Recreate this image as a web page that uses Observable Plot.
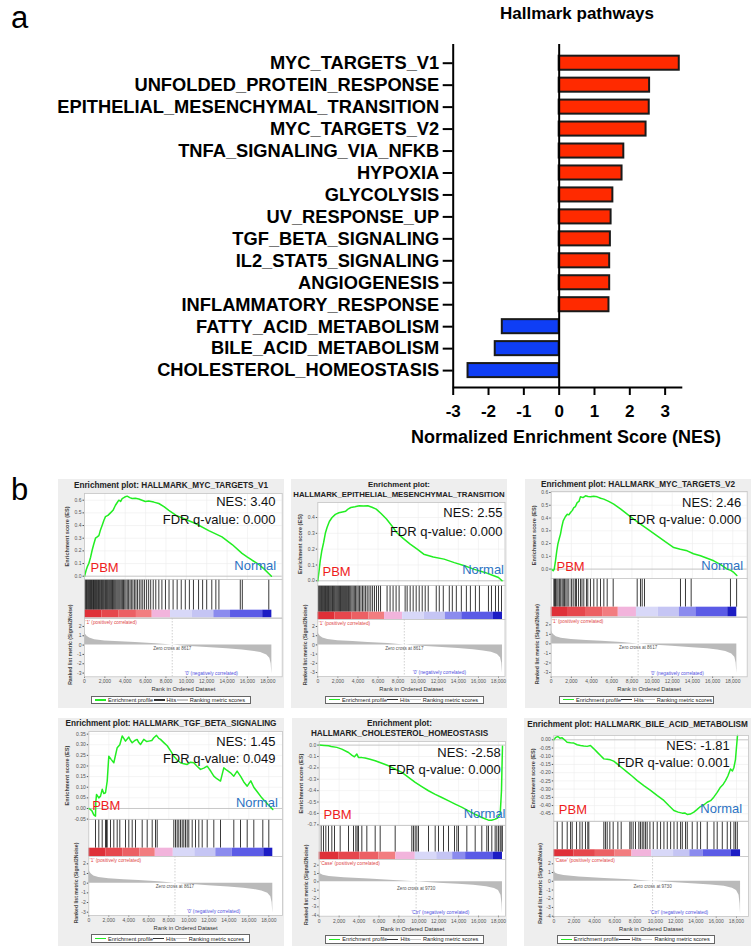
<!DOCTYPE html>
<html>
<head>
<meta charset="utf-8">
<script src="https://cdn.jsdelivr.net/npm/d3@7"></script>
<script src="https://cdn.jsdelivr.net/npm/@observablehq/plot@0.6"></script>
<style>
  body { margin: 0; background: #fff; }
  #fig { position: relative; width: 751px; height: 946px; overflow: hidden; font-family: "Liberation Sans", Arial, sans-serif; color: #000; }
  .abs { position: absolute; white-space: nowrap; }
  .panel { position: absolute; background: #eeeeee; }
  .ptitle { position: absolute; left: 0; width: 100%; text-align: center; font-weight: bold; font-size: 8px; line-height: 10px; white-space: nowrap; color: #222; }
  .legend { position: absolute; background: #fff; border: 0.8px solid #666; box-sizing: border-box; display: flex; align-items: center; justify-content: space-between; padding: 0 5px 0 3px; font-size: 5.6px; color: #222; white-space: nowrap; }
  .legend i { display: inline-block; width: 11px; height: 1.3px; vertical-align: middle; margin-right: 2px; position: relative; top: -0.5px; }
</style>
</head>
<body>
<div id="fig"></div>
<script>
// ---------- Panel a: hallmark pathways, normalized enrichment scores ----------
const pathways = [
  "MYC_TARGETS_V1", "UNFOLDED_PROTEIN_RESPONSE", "EPITHELIAL_MESENCHYMAL_TRANSITION",
  "MYC_TARGETS_V2", "TNFA_SIGNALING_VIA_NFKB", "HYPOXIA", "GLYCOLYSIS", "UV_RESPONSE_UP",
  "TGF_BETA_SIGNALING", "IL2_STAT5_SIGNALING", "ANGIOGENESIS", "INFLAMMATORY_RESPONSE",
  "FATTY_ACID_METABOLISM", "BILE_ACID_METABOLISM", "CHOLESTEROL_HOMEOSTASIS"
];
const nes = [3.40, 2.56, 2.55, 2.46, 1.83, 1.78, 1.52, 1.47, 1.45, 1.43, 1.43, 1.41, -1.61, -1.81, -2.58];
const nesTicks = [-3, -2, -1, 0, 1, 2, 3];

// ---------- Panel b: GSEA enrichment plots ----------
const gseaSets = ["MYC_TARGETS_V1", "EPITHELIAL_MESENCHYMAL_TRANSITION", "MYC_TARGETS_V2",
                  "TGF_BETA_SIGNALING", "CHOLESTEROL_HOMEOSTASIS", "BILE_ACID_METABOLISM"];
const fdrQ = [0.000, 0.000, 0.000, 0.049, 0.000, 0.001];

// running enrichment score: [rank, ES]
const esMycV1 = [[0,0],[160,0.047],[300,0.08],[420,0.1],[600,0.15],[750,0.205],[900,0.25],[1080,0.3],[1250,0.31],[1410,0.32],[1550,0.36],[1730,0.4],[1900,0.44],[2060,0.47],[2300,0.48],[2550,0.5],[2800,0.52],[3040,0.56],[3200,0.58],[3370,0.6],[3550,0.59],[3700,0.613],[3950,0.625],[4190,0.632],[4450,0.62],[4680,0.613],[5000,0.615],[5330,0.61],[5650,0.6],[5980,0.59],[6300,0.594],[6800,0.585],[7300,0.574],[7800,0.55],[8280,0.52],[9000,0.48],[9900,0.45],[10900,0.416],[12200,0.36],[13500,0.31],[14500,0.25],[15470,0.18],[16000,0.15],[16460,0.126],[17000,0.1],[17600,0.06],[18360,0.0]];
const esEmt = [[0,0],[120,0.06],[240,0.126],[400,0.19],[580,0.242],[750,0.3],[920,0.337],[1150,0.375],[1420,0.4],[1750,0.42],[2100,0.43],[2450,0.435],[2780,0.44],[3050,0.455],[3290,0.463],[3700,0.468],[4130,0.474],[4550,0.472],[4980,0.474],[5400,0.465],[5820,0.453],[6300,0.425],[6840,0.39],[7350,0.35],[7850,0.305],[8500,0.268],[9200,0.232],[9900,0.2],[10550,0.168],[11500,0.15],[12580,0.137],[13600,0.115],[14610,0.095],[15600,0.072],[16640,0.053],[17400,0.035],[18000,0.021],[18350,0.0]];
const esMycV2 = [[0,0],[200,-0.013],[300,0.0],[425,0.065],[550,0.14],[660,0.196],[800,0.24],[920,0.274],[1050,0.33],[1190,0.378],[1400,0.41],[1590,0.43],[1750,0.425],[1915,0.443],[2100,0.46],[2240,0.482],[2400,0.49],[2575,0.521],[2750,0.53],[2904,0.566],[3150,0.56],[3400,0.574],[3650,0.568],[3900,0.566],[4200,0.57],[4560,0.566],[4900,0.555],[5210,0.548],[5700,0.53],[6200,0.509],[6900,0.47],[7530,0.431],[8200,0.39],[8850,0.352],[9700,0.305],[10500,0.261],[11300,0.215],[12150,0.169],[12800,0.155],[13480,0.143],[14100,0.12],[14800,0.104],[15450,0.085],[16110,0.065],[16800,0.035],[17440,0.0],[17800,-0.01],[18100,-0.026],[18400,-0.05]];
const esTgf = [[0,0.0],[300,-0.01],[500,-0.03],[670,-0.036],[700,0.03],[770,0.066],[1000,0.05],[1170,0.058],[1340,0.09],[1500,0.07],[1670,0.074],[1840,0.129],[2000,0.246],[2250,0.23],[2500,0.215],[2840,0.286],[3100,0.3],[3340,0.341],[3500,0.33],[3670,0.317],[4000,0.336],[4170,0.32],[4340,0.309],[4600,0.32],[4830,0.325],[5000,0.31],[5170,0.301],[5500,0.325],[5800,0.315],[6000,0.317],[6300,0.32],[6500,0.333],[6770,0.344],[7000,0.33],[7170,0.325],[7500,0.31],[7840,0.295],[8200,0.27],[8500,0.246],[8840,0.228],[9170,0.215],[9500,0.21],[9840,0.207],[10170,0.218],[10500,0.215],[10800,0.2],[11170,0.184],[11500,0.19],[11840,0.199],[12200,0.175],[12500,0.152],[12800,0.14],[13170,0.129],[13500,0.191],[13800,0.18],[14170,0.168],[14500,0.152],[14830,0.176],[15200,0.15],[15500,0.125],[15840,0.105],[16200,0.13],[16500,0.1],[16900,0.075],[17300,0.05],[17800,0.025],[18400,-0.005]];
const esChol = [[0,0],[500,-0.003],[940,-0.005],[1200,-0.012],[1770,-0.02],[2270,-0.035],[2940,-0.065],[3300,-0.09],[3540,-0.103],[3780,-0.079],[3940,-0.108],[4300,-0.11],[4610,-0.114],[5100,-0.125],[5620,-0.138],[6300,-0.16],[6960,-0.182],[7600,-0.21],[8300,-0.24],[9000,-0.285],[9640,-0.328],[10300,-0.365],[10970,-0.401],[11600,-0.43],[12310,-0.46],[13000,-0.49],[13650,-0.518],[14300,-0.545],[14990,-0.577],[15700,-0.61],[16330,-0.636],[17000,-0.659],[17300,-0.66],[17670,-0.65],[17900,-0.64],[18170,-0.606],[18300,-0.4],[18350,-0.2],[18400,-0.01]];
const esBile = [[0,0],[200,0.015],[400,0.02],[600,0.01],[820,0.012],[1050,0.0],[1310,-0.015],[1650,-0.018],[1970,-0.02],[2300,-0.03],[2630,-0.035],[2950,-0.038],[3280,-0.04],[3610,-0.035],[3950,-0.055],[4270,-0.075],[4600,-0.095],[4930,-0.116],[5250,-0.118],[5580,-0.122],[5900,-0.13],[6240,-0.146],[6700,-0.17],[7230,-0.197],[7700,-0.22],[8220,-0.248],[8900,-0.28],[9530,-0.308],[10200,-0.34],[10840,-0.369],[11330,-0.4],[11830,-0.43],[12250,-0.44],[12650,-0.446],[12900,-0.445],[13140,-0.454],[13450,-0.452],[13800,-0.44],[14100,-0.425],[14450,-0.406],[14800,-0.395],[15110,-0.38],[15450,-0.37],[15760,-0.349],[16100,-0.32],[16420,-0.288],[16700,-0.27],[16920,-0.248],[17150,-0.22],[17410,-0.177],[17600,-0.19],[17740,-0.17],[17900,-0.12],[18000,-0.045],[18100,0.026]];

// positions of gene-set members in the ranked list
const hitsMycV1 = [40,120,200,260,330,410,470,540,600,680,750,820,880,950,1010,1090,1160,1230,1300,1380,1450,1520,1600,1680,1750,1830,1900,1990,2070,2150,2240,2320,2400,2480,2570,2660,2750,2830,2920,3010,3100,3200,3300,3400,3500,3610,3720,3830,3950,4070,4200,4330,4470,4600,4750,4900,5050,5200,5380,5550,5720,5900,6100,6300,6500,6750,7000,7300,7600,7950,8300,8700,9100,9500,9900,10300,10700,11200,11600,12000,12500,12900,13200,15300,15500,18100];
const hitsEmt = [60,150,230,300,380,450,530,600,680,760,830,900,980,1060,1140,1220,1300,1390,1470,1550,1640,1720,1810,1900,1990,2080,2170,2260,2350,2450,2550,2650,2750,2850,2950,3060,3170,3280,3400,3520,3640,3760,3890,4020,4150,4300,4450,4600,4760,4920,5100,5280,5460,5650,5850,6050,6250,6900,7200,7500,7800,8100,8700,8900,9200,9500,9800,10100,10400,10700,11000,11800,12100,12500,13100,13400,13800,14300,14800,15200,15700,16100,17000,17300,17700,18000,18300];
const hitsMycV2 = [262,330,426,500,655,780,853,950,1084,1200,1315,1450,1579,1744,1976,2050,2240,2400,2504,2700,2900,3050,3230,3494,3626,3890,4220,4550,4886,5216,5550,6145,8523,8850,9019,9247,12815,13310,13875,17770,18380];
const hitsTgf = [670,1000,1340,1670,1770,1840,2170,2500,2840,3100,3670,4000,4340,4670,5340,5840,6340,6670,6840,8500,8670,8840,9000,9170,9340,9500,9670,9840,10000,10340,10670,11000,11340,11840,12500,13170,14500,15170,15840,16500,17400,18000];
const hitsChol = [200,432,666,934,1268,1536,2105,2942,3444,3678,3812,3946,4280,4782,5619,6121,7627,9300,9464,9636,9803,9970,10974,11643,11978,12480,12982,13584,13818,13985,14822,15660,16325,16827,16995,17330,17664,17831,17998,18165,18265,18390];
const hitsBile = [335,828,1320,1650,1810,2240,2570,2800,3120,3350,3450,4930,5090,5260,5520,5850,6310,6640,7490,7620,7820,8050,8380,8540,8710,8870,9040,9200,9470,9800,10190,10520,10850,11180,11510,11840,12160,12490,12660,12980,13150,13640,14130,14460,15120,15780,16100,16600,17090,17420,17750,17910,18080];

// ranked list metric (Signal2Noise): [rank, metric]
const metricPbm = [[0,2.0],[30,1.4],[100,1.15],[250,0.95],[500,0.75],[1000,0.58],[2000,0.45],[3500,0.36],[5000,0.27],[7000,0.14],[8617,0],[10000,-0.12],[12000,-0.26],[14000,-0.4],[15500,-0.52],[16500,-0.65],[17300,-0.8],[17900,-1.05],[18200,-1.4],[18330,-2.0],[18380,-2.8],[18400,-3.1]];
const metricCase = [[0,1.6],[30,1.2],[150,0.95],[400,0.8],[1000,0.65],[2500,0.5],[5000,0.33],[7500,0.16],[9730,0],[12000,-0.17],[14000,-0.3],[15500,-0.42],[16800,-0.58],[17600,-0.8],[18000,-1.05],[18250,-1.6],[18350,-2.6],[18400,-3.8]];

// heat-map strip under the hits: [start rank, end rank, level]
const heatPbm = [[0,1700,5],[1700,3400,4],[3400,5100,3],[5100,6650,2],[6650,8450,1],[8450,10600,-1],[10600,12700,-2],[12700,14340,-3],[14340,17500,-4],[17500,18400,-5]];
const heatCase = [[0,2000,5],[2000,4100,4],[4100,6000,3],[6000,7700,2],[7700,9650,1],[9650,11800,-1],[11800,13400,-2],[13400,14700,-3],[14700,17500,-4],[17500,18400,-5]];
const heatLevels = [5, 4, 3, 2, 1, -1, -2, -3, -4, -5];

// tick labels
const rankTicks = [0, 2000, 4000, 6000, 8000, 10000, 12000, 14000, 16000, 18000];
const esTicks06 = [0, 0.1, 0.2, 0.3, 0.4, 0.5, 0.6];
const esTicks04 = [0, 0.1, 0.2, 0.3, 0.4];
const esTicksTgf = [-0.05, 0, 0.05, 0.1, 0.15, 0.2, 0.25, 0.3, 0.35];
const esTicksChol = [0, -0.1, -0.2, -0.3, -0.4, -0.5, -0.6, -0.7];
const esTicksBile = [0, -0.05, -0.1, -0.15, -0.2, -0.25, -0.3, -0.35, -0.4, -0.45];
const metricTicksPbm = [2, 1, 0, -1, -2, -3];
const metricTicksCase = [2, 1, 0, -1, -2, -3, -4];

// ---------- styling ----------
const heatColors = ["#df3038", "#e6474d", "#ec6064", "#f27d80", "#f2b4dc", "#d8d8f8", "#c5c5f4", "#8b8bee", "#5b5be6", "#1d1dc4"];
const ARIAL = "Liberation Sans, Arial, sans-serif";
const baseStyle = {fontFamily: ARIAL, background: "transparent", overflow: "visible"};
const fig = document.getElementById("fig");

function addText(txt, css) {
  const d = document.createElement("div");
  d.className = "abs";
  d.textContent = txt;
  Object.assign(d.style, css);
  fig.appendChild(d);
  return d;
}

// ---------- panel a ----------
addText("a", {left: "11px", top: "2px", fontSize: "31px", lineHeight: "31px", fontFamily: ARIAL});
addText("Hallmark pathways", {left: "577px", top: "14px", transform: "translate(-50%,-50%)", fontSize: "17px", fontWeight: "bold"});

const bars = pathways.map((name, i) => ({name, i, value: nes[i]}));
const barPlot = Plot.plot({
  width: 751, height: 455,
  marginLeft: 452.7, marginRight: 68.7, marginTop: 44, marginBottom: 68,
  style: baseStyle,
  x: {domain: [-3, 3.5]},
  y: {domain: [-0.852, 14.77], reverse: true},
  marks: [
    Plot.rect(bars, {
      x1: () => 0, x2: "value",
      y1: d => d.i - 0.32, y2: d => d.i + 0.32,
      fill: d => d.value > 0 ? "#ff2a00" : "#0f3ef5",
      stroke: "#1a1a1a", strokeWidth: 2
    }),
    Plot.ruleX([0], {strokeWidth: 2}),
    Plot.ruleX([-3], {strokeWidth: 2}),
    Plot.ruleY([14.77], {strokeWidth: 2}),
    Plot.axisY(bars.map(d => d.i), {tickFormat: i => pathways[i], tickSize: 10, tickPadding: 4, fontSize: 18.3, fontWeight: "bold", strokeWidth: 2, label: null}),
    Plot.axisX(nesTicks, {tickFormat: d => String(d), tickSize: 8, tickPadding: 9, fontSize: 17, fontWeight: "bold", strokeWidth: 2, label: null})
  ]
});
barPlot.style.position = "absolute";
barPlot.style.left = "0px";
barPlot.style.top = "0px";
fig.appendChild(barPlot);
addText("Normalized Enrichment Score (NES)", {left: "566px", top: "437px", transform: "translate(-50%,-50%)", fontSize: "18px", fontWeight: "bold"});

// ---------- panel b ----------
addText("b", {left: "11px", top: "474px", fontSize: "31px", lineHeight: "31px", fontFamily: ARIAL});

const fmt1 = d => d.toFixed(1), fmt2 = d => d.toFixed(2);
const sets = [
  {es: esMycV1, hits: hitsMycV1, metric: metricPbm, heat: heatPbm, esTicks: esTicks06, esFmt: fmt1, mTicks: metricTicksPbm, zero: 8617, pos: "'1' (positively correlated)", neg: "'0' (negatively correlated)", title: ["Enrichment plot: HALLMARK_MYC_TARGETS_V1"]},
  {es: esEmt, hits: hitsEmt, metric: metricPbm, heat: heatPbm, esTicks: esTicks04, esFmt: fmt1, mTicks: metricTicksPbm, zero: 8617, pos: "'1' (positively correlated)", neg: "'0' (negatively correlated)", title: ["Enrichment plot:", "HALLMARK_EPITHELIAL_MESENCHYMAL_TRANSITION"]},
  {es: esMycV2, hits: hitsMycV2, metric: metricPbm, heat: heatPbm, esTicks: esTicks06, esFmt: fmt1, mTicks: metricTicksPbm, zero: 8617, pos: "'1' (positively correlated)", neg: "'0' (negatively correlated)", title: ["Enrichment plot: HALLMARK_MYC_TARGETS_V2"]},
  {es: esTgf, hits: hitsTgf, metric: metricPbm, heat: heatPbm, esTicks: esTicksTgf, esFmt: fmt2, mTicks: metricTicksPbm, zero: 8617, pos: "'1' (positively correlated)", neg: "'0' (negatively correlated)", title: ["Enrichment plot: HALLMARK_TGF_BETA_SIGNALING"]},
  {es: esChol, hits: hitsChol, metric: metricCase, heat: heatCase, esTicks: esTicksChol, esFmt: fmt1, mTicks: metricTicksCase, zero: 9730, pos: "'Case' (positively correlated)", neg: "'Ctrl' (negatively correlated)", title: ["Enrichment plot:", "HALLMARK_CHOLESTEROL_HOMEOSTASIS"]},
  {es: esBile, hits: hitsBile, metric: metricCase, heat: heatCase, esTicks: esTicksBile, esFmt: fmt2, mTicks: metricTicksCase, zero: 9730, pos: "'Case' (positively correlated)", neg: "'Ctrl' (negatively correlated)", title: ["Enrichment plot: HALLMARK_BILE_ACID_METABOLISM"]}
];

// page geometry of each enrichment plot
const layouts = [
  {box: [58, 479, 226, 229], L: 84, x18: 267.3, R: 281.7, es: [493.3, 579.3], esRef: [[0, 576], [0.6, 500]], hits: [579.3, 610, 617.7], rk: [617.7, 676], rkRef: [[0, 644.3], [-3, 672.3]], titleY: 486, titleSize: 8.2, nesOff: [-6.7, 12.7, 30], pbm: [6, -7.6], normal: [-6, -10], esLab: -17.3, rkLab: -14, legend: [91, 695.7, 160, 8.5]},
  {box: [291, 479, 216, 229], L: 317.3, x18: 498, R: 504.5, es: [501.7, 585], esRef: [[0, 580], [0.4, 516.7]], hits: [585, 611.7, 619], rk: [619, 676], rkRef: [[2, 626], [-3, 672]], titleY: 485, titleSize: 7.8, nesOff: [-2.5, 15, 33.3], pbm: [4.7, -10], normal: [-1, -11.7], esLab: -17.6, rkLab: -12.6, legend: [325, 695.5, 159, 8.5]},
  {box: [525, 479, 226, 229], L: 550.7, x18: 732.3, R: 746.7, es: [490.7, 578.3], esRef: [[0, 568.3], [0.6, 491.7]], hits: [578.3, 607, 616.7], rk: [616.7, 676], rkRef: [[2, 624], [-3, 671.7]], titleY: 485, titleSize: 8.2, nesOff: [-6, 15.3, 32.6], pbm: [5.3, -8.3], normal: [-4, -9], esLab: -17.4, rkLab: -13.4, legend: [559, 695.5, 155, 8.5]},
  {box: [58, 718, 226, 228], L: 88.3, x18: 268.3, R: 282, es: [730.7, 819], esRef: [[0.35, 733.3], [-0.05, 818.3]], hits: [819, 847.7, 856], rk: [856, 915], rkRef: [[2, 863.3], [-3, 911.7]], titleY: 724, titleSize: 8.2, nesOff: [-7, 14.3, 31.6], pbm: [3.4, -9.7], normal: [-4.7, -12.3], esLab: -21.6, rkLab: -12.3, legend: [91, 934.3, 159, 9]},
  {box: [292, 718, 215, 228], L: 318.7, x18: 498, R: 505, es: [740.7, 825], esRef: [[0, 744.3], [-0.7, 824]], hits: [825, 851.7, 859.3], rk: [859.3, 916], rkRef: [[2, 865], [-4, 915]], titleY: 724, titleSize: 8.2, nesOff: [-4.7, 15.3, 32.6], pbm: [4.3, -6.7], normal: [0, -7.7], esLab: -18.4, rkLab: -12.4, legend: [325.3, 935, 158.4, 8.5]},
  {box: [524, 718, 227, 228], L: 553.3, x18: 736, R: 748, es: [735, 820.7], esRef: [[0, 739.3], [-0.45, 813.3]], hits: [820.7, 849, 856], rk: [856, 916], rkRef: [[2, 863.3], [-4, 915.7]], titleY: 724.7, titleSize: 8.2, nesOff: [-18.7, 14.3, 31.7], pbm: [5, -7.4], normal: [-6.3, -8], esLab: -20.6, rkLab: -13.3, legend: [556.7, 935, 158.3, 8.5]}
];

// value domain of a linear axis from two reference ticks and the frame edges
function domainFrom(ref, top, bottom) {
  const [[v1, p1], [v2, p2]] = ref;
  const k = (p2 - p1) / (v2 - v1);
  return [v1 + (bottom - p1) / k, v1 + (top - p1) / k];
}

function enrichmentPlot(k) {
  const s = sets[k], lay = layouts[k];
  const name = gseaSets[k];
  const nesValue = nes[pathways.indexOf(name)];
  const [bx, by, bw, bh] = lay.box;
  const panel = document.createElement("div");
  panel.className = "panel";
  Object.assign(panel.style, {left: bx + "px", top: by + "px", width: bw + "px", height: bh + "px"});
  fig.appendChild(panel);

  const xMax = 18000 * (lay.R - lay.L) / (lay.x18 - lay.L);
  const mL = lay.L - bx, mR = bx + bw - lay.R, pad = 2;
  const put = (svg, frameTop) => {
    svg.style.position = "absolute";
    svg.style.left = "0px";
    svg.style.top = (frameTop - pad - by) + "px";
    panel.appendChild(svg);
  };

  // title
  const t = document.createElement("div");
  t.className = "ptitle";
  t.style.fontSize = lay.titleSize + "px";
  t.style.top = (lay.titleY - by - 5) + "px";
  t.innerHTML = s.title.join("<br>");
  panel.appendChild(t);

  // running enrichment score
  const [esT, esB] = lay.es;
  const esPlot = Plot.plot({
    width: bw, height: esB - esT + 2 * pad,
    marginLeft: mL, marginRight: mR, marginTop: pad, marginBottom: pad,
    style: baseStyle,
    x: {domain: [0, xMax], axis: null},
    y: {domain: domainFrom(lay.esRef, esT, esB)},
    marks: [
      Plot.frame({fill: "white"}),
      Plot.ruleX(rankTicks, {stroke: "#ececec", strokeWidth: 0.6}),
      Plot.ruleY(s.esTicks, {stroke: "#ececec", strokeWidth: 0.6}),
      Plot.ruleY([0], {stroke: "#a8a8a8", strokeWidth: 0.6}),
      Plot.axisY(s.esTicks, {tickFormat: s.esFmt, tickSize: 1.5, tickPadding: 1.5, fontSize: 5, color: "#555", label: null}),
      Plot.line(s.es, {x: d => d[0], y: d => d[1], stroke: "#22ee22", strokeWidth: 1.5}),
      Plot.text([`NES: ${nesValue.toFixed(2)}`], {frameAnchor: "top-right", dx: lay.nesOff[0], dy: lay.nesOff[1], textAnchor: "end", lineAnchor: "bottom", fontSize: 13, fill: "#111"}),
      Plot.text([`FDR q-value: ${fdrQ[k].toFixed(3)}`], {frameAnchor: "top-right", dx: lay.nesOff[0], dy: lay.nesOff[2], textAnchor: "end", lineAnchor: "bottom", fontSize: 13, fill: "#111"}),
      Plot.text(["PBM"], {frameAnchor: "bottom-left", dx: lay.pbm[0], dy: lay.pbm[1], textAnchor: "start", lineAnchor: "bottom", fontSize: 13, fill: "#ee1d1d"}),
      Plot.text(["Normal"], {frameAnchor: "bottom-right", dx: lay.normal[0], dy: lay.normal[1], textAnchor: "end", lineAnchor: "bottom", fontSize: 13, fill: "#2c72c2"}),
      Plot.text(["Enrichment score (ES)"], {frameAnchor: "left", dx: lay.esLab, rotate: -90, textAnchor: "middle", lineAnchor: "middle", fontSize: 5.6, fontWeight: "bold", fill: "#444"}),
      Plot.frame({stroke: "#c4c4c4", strokeWidth: 0.8})
    ]
  });
  put(esPlot, esT);

  // hits and heat-map strip
  const [hT, sT, sB] = lay.hits;
  const f = (sB - sT) / (sB - hT);
  const hitsPlot = Plot.plot({
    width: bw, height: sB - hT + 2 * pad,
    marginLeft: mL, marginRight: mR, marginTop: pad, marginBottom: pad,
    style: baseStyle,
    x: {domain: [0, xMax], axis: null},
    y: {domain: [0, 1], axis: null},
    color: {type: "ordinal", domain: heatLevels, range: heatColors},
    marks: [
      Plot.frame({fill: "white"}),
      Plot.ruleX(s.hits, {y1: f, y2: 1, stroke: "#161616", strokeWidth: 0.85}),
      Plot.rect(s.heat, {x1: d => d[0], x2: d => d[1], y1: 0, y2: f, fill: d => d[2]}),
      Plot.frame({stroke: "#c4c4c4", strokeWidth: 0.8})
    ]
  });
  put(hitsPlot, hT);

  // ranked list metric
  const [rT, rB] = lay.rk;
  const rankedPlot = Plot.plot({
    width: bw, height: rB - rT + pad + 18,
    marginLeft: mL, marginRight: mR, marginTop: pad, marginBottom: 18,
    style: baseStyle,
    x: {domain: [0, xMax]},
    y: {domain: domainFrom(lay.rkRef, rT, rB)},
    marks: [
      Plot.frame({fill: "white"}),
      Plot.areaY(s.metric, {x: d => d[0], y1: () => 0, y2: d => d[1], fill: "#bababa"}),
      Plot.ruleX([s.zero], {stroke: "#b0b0b0", strokeWidth: 0.6, strokeDasharray: "1.5,1.5"}),
      Plot.axisY(s.mTicks, {tickFormat: d => String(d), tickSize: 1.5, tickPadding: 1.5, fontSize: 5, color: "#555", label: null}),
      Plot.axisX(rankTicks, {tickFormat: d3.format(","), tickSize: 1.5, tickPadding: 1.5, fontSize: 5, color: "#555", label: null}),
      Plot.text([s.pos], {frameAnchor: "top-left", dx: 1, dy: 4, textAnchor: "start", lineAnchor: "middle", fontSize: 4.8, fill: "#e04848"}),
      Plot.text([s.zero], {x: d => d, frameAnchor: "middle", dy: 0.5, text: d => `Zero cross at ${d}`, fontSize: 4.6, fill: "#555"}),
      Plot.text([s.neg], {frameAnchor: "bottom", dx: 28, dy: -3.7, lineAnchor: "middle", fontSize: 4.8, fill: "#5050e0"}),
      Plot.text(["Ranked list metric (Signal2Noise)"], {frameAnchor: "left", dx: lay.rkLab, dy: -3, rotate: -90, textAnchor: "middle", lineAnchor: "middle", fontSize: 5.1, fontWeight: "bold", fill: "#444"}),
      Plot.text(["Rank in Ordered Dataset"], {frameAnchor: "bottom", dy: 12.5, lineAnchor: "middle", fontSize: 5.8, fill: "#333"}),
      Plot.frame({stroke: "#c4c4c4", strokeWidth: 0.8})
    ]
  });
  put(rankedPlot, rT);

  // legend
  const [lx, ly, lw, lh] = lay.legend;
  const lg = document.createElement("div");
  lg.className = "legend";
  Object.assign(lg.style, {left: (lx - bx) + "px", top: (ly - by) + "px", width: lw + "px", height: lh + "px"});
  lg.innerHTML = '<span><i style="background:#22ee22"></i>Enrichment profile</span>' +
                 '<span><i style="background:#333"></i>Hits</span>' +
                 '<span><i style="background:#c8c8c8"></i>Ranking metric scores</span>';
  panel.appendChild(lg);
}

for (let k = 0; k < sets.length; ++k) enrichmentPlot(k);
</script>
</body>
</html>
